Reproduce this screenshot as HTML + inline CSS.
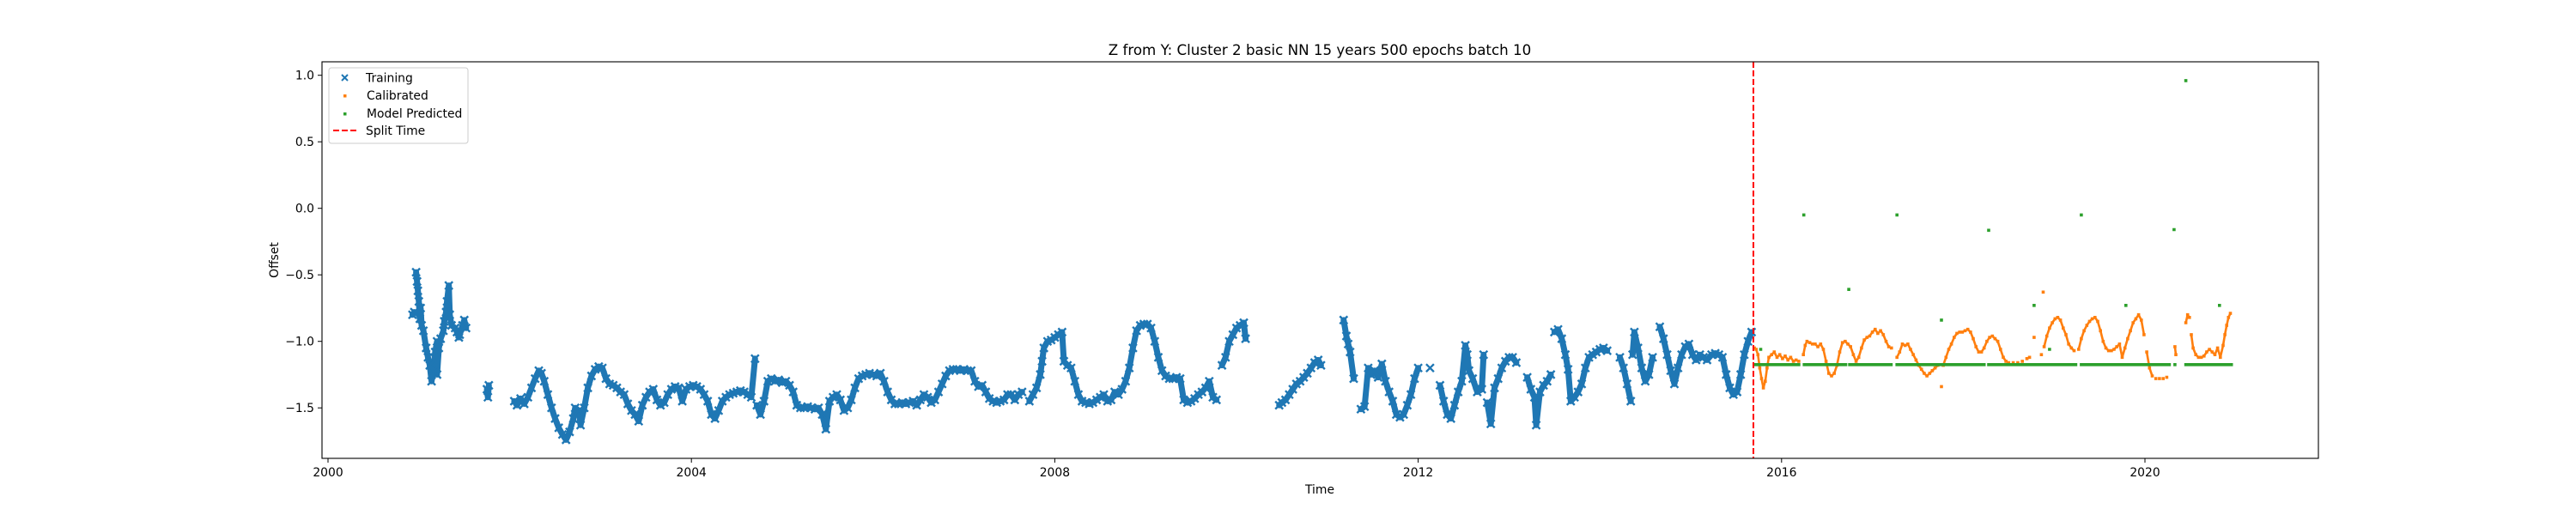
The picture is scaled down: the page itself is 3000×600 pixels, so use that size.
<!DOCTYPE html>
<html><head><meta charset="utf-8">
<style>
html,body{margin:0;padding:0;background:#fff;}
svg{display:block;font-family:"DejaVu Sans","Liberation Sans",sans-serif;}
</style></head>
<body>
<svg id="chart" width="3000" height="600" viewBox="0 0 3000 600" xmlns="http://www.w3.org/2000/svg">
<rect x="0" y="0" width="3000" height="600" fill="#fff"/>
<text x="1537" y="64" text-anchor="middle" font-size="16.7" fill="#000">Z from Y: Cluster 2 basic NN 15 years 500 epochs batch 10</text>
<g id="plot"></g>
<g id="axes"></g>
<text x="1537" y="575" text-anchor="middle" font-size="13.9" fill="#000">Time</text>
<text x="0" y="0" transform="translate(324,303) rotate(-90)" text-anchor="middle" font-size="13.9" fill="#000">Offset</text>
<g>
<rect x="383" y="79" width="162" height="88" rx="3" fill="#fff" fill-opacity="0.8" stroke="#ccc" stroke-width="1"/>
<g>
<path d="M398,87 l7,7 M405,87 l-7,7" stroke="#1f77b4" stroke-width="2"/>
<text x="426" y="95.5" font-size="13.9" fill="#000">Training</text></g>
<g>
<rect x="400" y="110" width="3.5" height="3.5" fill="#ff7f0e"/>
<text x="427" y="116" font-size="13.9" fill="#000">Calibrated</text></g>
<g>
<rect x="400" y="131" width="3.5" height="3.5" fill="#2ca02c"/>
<text x="427" y="137" font-size="13.9" fill="#000">Model Predicted</text></g>
<g>
<line x1="388" y1="152" x2="416" y2="152" stroke="#ff0000" stroke-width="2" stroke-dasharray="7,3"/>
<text x="426" y="157" font-size="13.9" fill="#000">Split Time</text></g>
</g>
</svg>
<script>
// years since 2000 / offset values
const trainT = [0.93,0.95,0.97,0.98,0.99,1.0,1.01,1.02,1.03,1.05,1.08,1.10,1.12,1.14,1.16,1.18,1.2,1.20,1.22,1.24,1.27,1.28,1.30,1.31,1.33,1.34,1.36,1.40,1.42,1.44,1.45,1.48,1.50,1.52,
1.75,1.76,1.77,
2.05,2.08,2.12,2.16,2.2,2.24,2.28,2.32,2.35,2.38,2.42,2.46,2.50,2.54,2.58,2.62,2.66,2.70,2.72,2.76,2.78,2.82,2.86,2.90,2.94,2.98,3.02,3.06,3.10,3.14,3.18,3.22,3.26,3.30,3.34,3.38,3.42,3.46,3.50,3.54,3.58,3.62,3.66,3.70,3.74,3.78,3.82,3.86,3.90,3.94,3.98,4.02,4.06,4.10,4.14,4.18,4.22,4.26,4.30,4.34,4.38,4.42,4.46,4.50,4.54,4.58,4.62,4.66,4.70,4.72,4.76,4.80,4.84,4.88,4.92,4.96,5.00,5.04,5.08,5.12,5.16,5.20,5.24,5.28,5.32,5.36,5.40,5.44,5.48,5.52,5.56,5.60,5.64,5.68,5.72,5.76,5.80,5.84,5.88,5.92,5.96,6.00,6.04,6.08,6.12,6.16,6.20,6.24,6.28,6.32,6.36,6.40,6.44,6.48,6.52,6.56,6.60,6.64,6.68,6.72,6.76,6.80,6.84,6.88,6.92,6.96,7.00,7.04,7.08,7.12,7.16,7.20,7.24,7.28,7.32,7.36,7.40,7.44,7.48,7.52,7.56,7.60,7.64,7.72,7.76,7.80,7.84,7.86,7.88,7.92,7.96,8.00,8.04,8.08,8.10,8.14,8.18,8.22,8.26,8.30,8.34,8.38,8.42,8.46,8.50,8.54,8.58,8.62,8.66,8.70,8.74,8.78,8.82,8.86,8.90,8.94,8.98,9.02,9.06,9.10,9.14,9.18,9.22,9.26,9.30,9.34,9.38,9.42,9.46,9.50,9.54,9.58,9.62,9.66,9.70,9.74,9.78,9.84,9.88,9.92,9.96,10.00,10.04,10.08,10.10,
10.47,10.50,10.54,10.58,10.62,10.66,10.70,10.74,10.78,10.82,10.86,10.90,10.93,
11.18,11.21,11.23,11.25,11.29,11.37,11.41,11.45,11.48,11.52,11.56,11.60,11.64,11.68,11.72,11.76,11.80,11.84,11.88,11.92,11.96,12.00,12.13,12.24,12.28,12.32,12.36,12.40,12.44,12.48,12.52,12.54,12.56,12.60,12.65,12.70,12.72,12.76,12.80,12.84,12.88,12.92,12.96,13.00,13.04,13.08,13.20,13.24,13.28,13.30,13.34,13.38,13.42,13.46,13.50,13.54,13.58,13.62,13.65,13.68,13.72,13.76,13.80,13.84,13.88,13.92,13.96,14.00,14.04,14.08,14.22,14.26,14.30,14.34,14.36,14.38,14.42,14.46,14.50,14.54,14.58,14.66,14.70,14.74,14.78,14.82,14.86,14.90,14.94,14.98,15.02,15.06,15.10,15.14,15.18,15.23,15.27,15.31,15.35,15.39,15.43,15.47,15.51,15.55,15.59,15.63,15.67];
const trainV = [-0.80,-0.78,-0.48,-0.55,-0.62,-0.70,-0.83,-0.75,-0.88,-0.92,-1.05,-1.12,-1.18,-1.30,-1.22,-1.08,-1.00,-1.25,-1.05,-0.98,-0.92,-0.85,-0.78,-0.70,-0.58,-0.80,-0.88,-0.90,-0.93,-0.97,-0.95,-0.88,-0.84,-0.90,
-1.36,-1.42,-1.33,
-1.45,-1.48,-1.43,-1.47,-1.42,-1.35,-1.28,-1.22,-1.24,-1.30,-1.40,-1.50,-1.58,-1.65,-1.70,-1.74,-1.68,-1.58,-1.50,-1.52,-1.63,-1.50,-1.35,-1.26,-1.21,-1.19,-1.20,-1.28,-1.32,-1.33,-1.35,-1.38,-1.40,-1.47,-1.52,-1.55,-1.60,-1.48,-1.42,-1.38,-1.36,-1.44,-1.48,-1.46,-1.40,-1.36,-1.34,-1.35,-1.45,-1.36,-1.34,-1.33,-1.34,-1.36,-1.40,-1.45,-1.55,-1.58,-1.52,-1.45,-1.42,-1.40,-1.39,-1.38,-1.37,-1.38,-1.40,-1.42,-1.13,-1.48,-1.55,-1.45,-1.30,-1.28,-1.30,-1.29,-1.31,-1.30,-1.33,-1.38,-1.48,-1.50,-1.50,-1.49,-1.50,-1.51,-1.50,-1.55,-1.66,-1.45,-1.42,-1.40,-1.44,-1.52,-1.50,-1.44,-1.35,-1.28,-1.26,-1.25,-1.24,-1.25,-1.26,-1.24,-1.30,-1.38,-1.44,-1.47,-1.47,-1.46,-1.47,-1.46,-1.45,-1.48,-1.44,-1.40,-1.42,-1.46,-1.44,-1.38,-1.32,-1.26,-1.22,-1.21,-1.21,-1.22,-1.21,-1.22,-1.22,-1.30,-1.34,-1.33,-1.38,-1.43,-1.45,-1.46,-1.45,-1.44,-1.40,-1.40,-1.44,-1.40,-1.38,-1.45,-1.40,-1.35,-1.25,-1.15,-1.05,-1.00,-0.99,-0.97,-0.95,-0.93,-1.15,-1.18,-1.20,-1.30,-1.40,-1.45,-1.46,-1.47,-1.46,-1.44,-1.42,-1.40,-1.45,-1.44,-1.38,-1.40,-1.36,-1.30,-1.20,-1.05,-0.92,-0.88,-0.87,-0.87,-0.90,-1.00,-1.12,-1.22,-1.26,-1.28,-1.28,-1.27,-1.28,-1.44,-1.46,-1.45,-1.43,-1.40,-1.38,-1.35,-1.30,-1.42,-1.44,-1.18,-1.12,-1.00,-0.95,-0.90,-0.88,-0.86,-0.98,
-1.48,-1.46,-1.44,-1.40,-1.36,-1.32,-1.30,-1.27,-1.24,-1.20,-1.16,-1.14,-1.18,
-0.84,-0.96,-1.02,-1.08,-1.28,-1.51,-1.49,-1.20,-1.25,-1.22,-1.27,-1.17,-1.30,-1.38,-1.45,-1.55,-1.57,-1.55,-1.48,-1.40,-1.28,-1.20,-1.20,-1.33,-1.45,-1.55,-1.58,-1.48,-1.38,-1.30,-1.03,-1.10,-1.22,-1.28,-1.38,-1.36,-1.10,-1.46,-1.62,-1.35,-1.28,-1.20,-1.15,-1.12,-1.12,-1.16,-1.27,-1.36,-1.42,-1.63,-1.38,-1.33,-1.30,-1.25,-0.93,-0.91,-0.98,-1.10,-1.21,-1.45,-1.42,-1.38,-1.32,-1.20,-1.12,-1.10,-1.08,-1.06,-1.05,-1.07,-1.12,-1.20,-1.32,-1.45,-1.10,-0.93,-1.05,-1.20,-1.30,-1.25,-1.12,-0.89,-0.98,-1.10,-1.22,-1.32,-1.20,-1.10,-1.04,-1.02,-1.10,-1.14,-1.10,-1.12,-1.14,-1.10,-1.09,-1.10,-1.12,-1.25,-1.35,-1.40,-1.38,-1.25,-1.10,-1.00,-0.93];

const calT = [15.70,15.72,15.74,15.76,15.78,15.80,15.82,15.84,15.86,15.89,15.92,15.95,15.98,16.01,16.04,16.07,16.10,16.13,16.16,16.19,16.24,16.26,16.28,16.31,16.34,16.37,16.40,16.43,16.46,16.49,16.52,16.55,16.58,16.61,16.64,16.67,16.70,16.73,16.76,16.79,16.82,16.85,16.88,16.91,16.94,16.97,17.00,17.03,17.06,17.09,17.12,17.15,17.18,17.21,17.27,17.30,17.33,17.36,17.39,17.42,17.45,17.48,17.51,17.54,17.57,17.60,17.63,17.66,17.69,17.72,17.76,17.78,17.81,17.84,17.87,17.90,17.93,17.96,17.99,18.02,18.05,18.08,18.11,18.14,18.17,18.20,18.23,18.26,18.29,18.32,18.35,18.38,18.41,18.44,18.47,18.50,18.55,18.60,18.65,18.70,18.73,18.78,18.86,18.88,18.89,18.92,18.95,18.98,19.01,19.04,19.07,19.10,19.13,19.16,19.19,19.22,19.27,19.30,19.33,19.36,19.39,19.42,19.45,19.48,19.51,19.54,19.57,19.60,19.63,19.66,19.69,19.72,19.75,19.78,19.81,19.84,19.87,19.90,19.93,19.96,19.99,20.02,20.05,20.08,20.12,20.16,20.20,20.24,20.33,20.34,20.45,20.47,20.49,20.51,20.53,20.56,20.59,20.62,20.65,20.68,20.71,20.74,20.77,20.80,20.83,20.86,20.88,20.90,20.92,20.94];
const calV = [-1.05,-1.06,-1.10,-1.20,-1.28,-1.35,-1.30,-1.20,-1.12,-1.10,-1.08,-1.12,-1.10,-1.13,-1.11,-1.14,-1.12,-1.15,-1.14,-1.15,-1.10,-1.03,-1.00,-1.01,-1.02,-1.02,-1.04,-1.02,-1.06,-1.15,-1.24,-1.26,-1.24,-1.18,-1.08,-1.01,-1.00,-1.02,-1.04,-1.10,-1.15,-1.12,-1.05,-0.99,-0.97,-0.96,-0.93,-0.91,-0.94,-0.92,-0.95,-1.00,-1.04,-1.05,-1.12,-1.08,-1.02,-1.03,-1.02,-1.06,-1.10,-1.14,-1.18,-1.21,-1.24,-1.26,-1.24,-1.22,-1.20,-1.18,-1.34,-1.18,-1.12,-1.06,-1.02,-0.97,-0.94,-0.93,-0.93,-0.92,-0.91,-0.93,-0.98,-1.04,-1.08,-1.08,-1.05,-1.00,-0.97,-0.96,-0.98,-1.00,-1.06,-1.12,-1.15,-1.16,-1.16,-1.16,-1.15,-1.13,-1.12,-0.97,-1.10,-0.63,-1.04,-0.96,-0.90,-0.86,-0.83,-0.82,-0.84,-0.90,-0.95,-1.02,-1.05,-1.07,-1.06,-0.98,-0.92,-0.88,-0.85,-0.83,-0.82,-0.85,-0.92,-1.00,-1.05,-1.07,-1.07,-1.06,-1.04,-1.02,-1.12,-1.05,-0.98,-0.92,-0.86,-0.83,-0.80,-0.84,-0.95,-1.08,-1.20,-1.26,-1.28,-1.28,-1.28,-1.27,-1.04,-1.10,-0.86,-0.80,-0.82,-0.95,-1.05,-1.10,-1.12,-1.12,-1.11,-1.08,-1.06,-1.08,-1.10,-1.05,-1.12,-1.03,-0.95,-0.88,-0.82,-0.79];

// model prediction: constant base level over data segments, plus outliers
const predBase = -1.175;
const predSegStart = [15.71,16.25,16.75,17.27,18.28,18.77,19.30,19.80,20.45,20.82];
const predSegEnd   = [16.19,16.71,17.21,18.23,18.74,19.24,19.77,20.27,20.80,20.96];
const predOutT = [15.77,16.245,16.74,17.27,17.76,18.28,18.78,18.95,19.30,19.79,20.32,20.33,20.45,20.82];
const predOutV = [-1.06,-0.05,-0.61,-0.05,-0.84,-0.165,-0.73,-1.06,-0.05,-0.73,-0.16,-1.175,0.96,-0.73];
const splitTime = 15.69;

const xTicks = [2000,2004,2008,2012,2016,2020];
const yTicks = [1.0,0.5,0.0,-0.5,-1.0,-1.5];
const yTickLabels = ["1.0","0.5","0.0","\u22120.5","\u22121.0","\u22121.5"];

const L=375,R=2700,T=72,B=534;
function xs(yr){ return 382 + (yr-2000)*105.8; }
function ys(v){ return 87.7 + (1-v)*155; }
const NS="http://www.w3.org/2000/svg";
const plot=document.getElementById('plot');
const axes=document.getElementById('axes');

// dense band connecting consecutive observations (continuous daily data in the source)
function band(ts,vs,maxGap,maxJump,width,color,name){
  let p='';
  for(let i=0;i<ts.length;i++){
    const x=xs(2000+ts[i]).toFixed(1), y=ys(vs[i]).toFixed(1);
    if(i>0 && ts[i]-ts[i-1]<=maxGap && Math.abs(vs[i]-vs[i-1])<=maxJump) p+=`L${x},${y}`; else p+=`M${x},${y}`;
  }
  const e=document.createElementNS(NS,'path');
  e.setAttribute('d',p);e.setAttribute('stroke',color);e.setAttribute('stroke-width',width);
  e.setAttribute('fill','none');e.setAttribute('stroke-linejoin','round');e.setAttribute('stroke-linecap','round');
  
  
  plot.appendChild(e);
}
band(trainT,trainV,0.06,0.3,7,'#1f77b4','training-band');

let d='';
for(let i=0;i<trainT.length;i++){
  const x=xs(2000+trainT[i]), y=ys(trainV[i]);
  d+=`M${(x-4.5).toFixed(1)},${(y-4.5).toFixed(1)}l9,9M${(x+4.5).toFixed(1)},${(y-4.5).toFixed(1)}l-9,9`;
}
const tp=document.createElementNS(NS,'path');
tp.setAttribute('d',d);tp.setAttribute('stroke','#1f77b4');tp.setAttribute('stroke-width','2.4');tp.setAttribute('fill','none');


plot.appendChild(tp);

function dots(ts,vs,color,name){
  let p='';
  for(let i=0;i<ts.length;i++){
    const x=xs(2000+ts[i]), y=ys(vs[i]);
    p+=`M${(x-1.8).toFixed(1)},${(y-1.8).toFixed(1)}h3.6v3.6h-3.6z`;
  }
  const e=document.createElementNS(NS,'path');
  e.setAttribute('d',p);e.setAttribute('fill',color);
  
  
  plot.appendChild(e);
}
band(calT,calV,0.035,0.12,2.6,'#ff7f0e','calibrated-band');
dots(calT,calV,'#ff7f0e','calibrated-points');
// predicted base segments as dense daily markers
const pT=[],pV=[];
for(let s=0;s<predSegStart.length;s++){
  for(let t=predSegStart[s];t<=predSegEnd[s]+1e-9;t+=0.012){pT.push(t);pV.push(predBase);}
}
dots(pT,pV,'#2ca02c','predicted-base-points');
dots(predOutT,predOutV,'#2ca02c','predicted-outlier-points');

const sl=document.createElementNS(NS,'line');
sl.setAttribute('x1',xs(2000+splitTime));sl.setAttribute('x2',xs(2000+splitTime));
sl.setAttribute('y1',T);sl.setAttribute('y2',B);
sl.setAttribute('stroke','#ff0000');sl.setAttribute('stroke-width','2');sl.setAttribute('stroke-dasharray','7,3');


plot.appendChild(sl);

const frame=document.createElementNS(NS,'rect');
frame.setAttribute('x',L);frame.setAttribute('y',T);frame.setAttribute('width',R-L);frame.setAttribute('height',B-T);
frame.setAttribute('fill','none');frame.setAttribute('stroke','#000');frame.setAttribute('stroke-width','1.1');


axes.appendChild(frame);

xTicks.forEach(v=>{
  const x=xs(v);
  const t=document.createElementNS(NS,'line');
  t.setAttribute('x1',x);t.setAttribute('x2',x);t.setAttribute('y1',B);t.setAttribute('y2',B+5);t.setAttribute('stroke','#000');
  
  
  axes.appendChild(t);
  const l=document.createElementNS(NS,'text');
  l.setAttribute('x',x);l.setAttribute('y',B+21);l.setAttribute('text-anchor','middle');l.setAttribute('font-size','13.9');
  l.textContent=String(v);
  
  
  axes.appendChild(l);
});
yTicks.forEach((v,i)=>{
  const y=ys(v);
  const t=document.createElementNS(NS,'line');
  t.setAttribute('x1',L-5);t.setAttribute('x2',L);t.setAttribute('y1',y);t.setAttribute('y2',y);t.setAttribute('stroke','#000');
  
  
  axes.appendChild(t);
  const l=document.createElementNS(NS,'text');
  l.setAttribute('x',L-9);l.setAttribute('y',y+5);l.setAttribute('text-anchor','end');l.setAttribute('font-size','13.9');
  l.textContent=yTickLabels[i];
  
  
  axes.appendChild(l);
});
</script>
</body></html>
